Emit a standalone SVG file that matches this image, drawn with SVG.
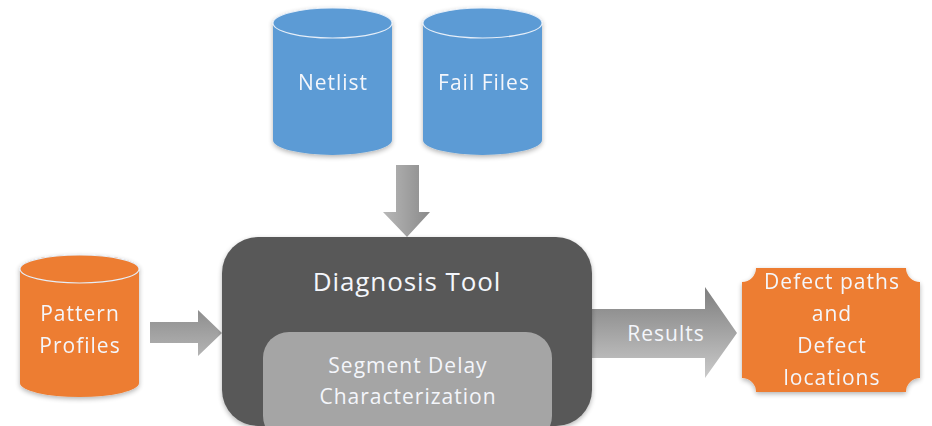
<svg xmlns="http://www.w3.org/2000/svg" width="932" height="426" viewBox="0 0 932 426">
  <style>
    .lbl { font-family: "Open Sans", "Noto Sans", "DejaVu Sans", sans-serif; fill: #f4f6fb; text-anchor: middle; font-size: 21px; letter-spacing: 1px; }
    .title { font-size: 26px; letter-spacing: 0.9px; }
    .db-blue { fill: #5b9bd5; }
    .db-orange { fill: #ed7d31; }
    .cap { stroke: #e6eef8; stroke-width: 1.1; }
  </style>
  <defs>
    <linearGradient id="gDown" x1="0" y1="0" x2="1" y2="0">
      <stop offset="0" stop-color="#b8b8b8"/>
      <stop offset="1" stop-color="#8a8a8a"/>
    </linearGradient>
    <linearGradient id="gIn" x1="0" y1="0" x2="0" y2="1">
      <stop offset="0" stop-color="#8e8e8e"/>
      <stop offset="1" stop-color="#b4b4b4"/>
    </linearGradient>
    <linearGradient id="gOut" x1="0" y1="0" x2="0" y2="1">
      <stop offset="0" stop-color="#7e7e7e"/>
      <stop offset="1" stop-color="#cacaca"/>
    </linearGradient>
    <filter id="soft" x="-10%" y="-10%" width="120%" height="130%">
      <feGaussianBlur in="SourceAlpha" stdDeviation="2.5"/>
      <feOffset dy="2"/>
      <feComponentTransfer><feFuncA type="linear" slope="0.3"/></feComponentTransfer>
      <feMerge><feMergeNode/><feMergeNode in="SourceGraphic"/></feMerge>
    </filter>
  </defs>

  <!-- connectors: block arrows -->
  <g id="connectors">
    <path d="M396,165 H419 V212 H430 L407,237 L383,212 H396 Z" fill="url(#gDown)"/>
    <path d="M150,322 H198 V310 L222,333 L198,356 V343 H150 Z" fill="url(#gIn)"/>
    <g id="results">
      <path d="M592,309 H705 V287 L737,333 L705,378 V358 H592 Z" fill="url(#gOut)"/>
      <text class="lbl" x="666" y="341">Results</text>
    </g>
  </g>

  <!-- Netlist store -->
  <g id="netlist" filter="url(#soft)">
    <path class="db-blue" d="M273,23 A59.5,15 0 0 1 392,23 V140 A59.5,15 0 0 1 273,140 Z"/>
    <ellipse class="db-blue cap" cx="332.5" cy="23" rx="59.5" ry="15"/>
    <text class="lbl" x="333" y="90">Netlist</text>
  </g>

  <!-- Fail Files store -->
  <g id="failfiles" filter="url(#soft)">
    <path class="db-blue" d="M423,23 A59.5,15 0 0 1 542,23 V140 A59.5,15 0 0 1 423,140 Z"/>
    <ellipse class="db-blue cap" cx="482.5" cy="23" rx="59.5" ry="15"/>
    <text class="lbl" x="484" y="90">Fail Files</text>
  </g>

  <!-- Pattern Profiles store -->
  <g id="patterns" filter="url(#soft)">
    <path class="db-orange" d="M20,269 A59.5,14 0 0 1 139,269 V383 A59.5,14 0 0 1 20,383 Z"/>
    <ellipse class="db-orange cap" cx="79.5" cy="269" rx="59.5" ry="14"/>
    <text class="lbl" x="80" y="321">Pattern</text>
    <text class="lbl" x="80" y="353">Profiles</text>
  </g>

  <!-- Diagnosis Tool -->
  <g id="diagnosis">
    <rect x="222" y="237" width="370" height="189" rx="36" fill="#595959" filter="url(#soft)"/>
    <text class="lbl title" x="407" y="291">Diagnosis Tool</text>
    <g id="segment">
      <rect x="263" y="332" width="289" height="110" rx="26" fill="#a5a5a5"/>
      <text class="lbl" x="408" y="373">Segment Delay</text>
      <text class="lbl" x="408" y="404">Characterization</text>
    </g>
  </g>

  <!-- Defect output -->
  <g id="defects" filter="url(#soft)">
    <path d="M756,268 H906 A14,14 0 0 0 920,282 V378 A14,14 0 0 0 906,392 H756 A14,14 0 0 0 742,378 V282 A14,14 0 0 0 756,268 Z" fill="#ed7d31"/>
    <text class="lbl" x="832" y="289">Defect paths</text>
    <text class="lbl" x="832" y="321">and</text>
    <text class="lbl" x="832" y="353">Defect</text>
    <text class="lbl" x="832" y="385">locations</text>
  </g>
</svg>
